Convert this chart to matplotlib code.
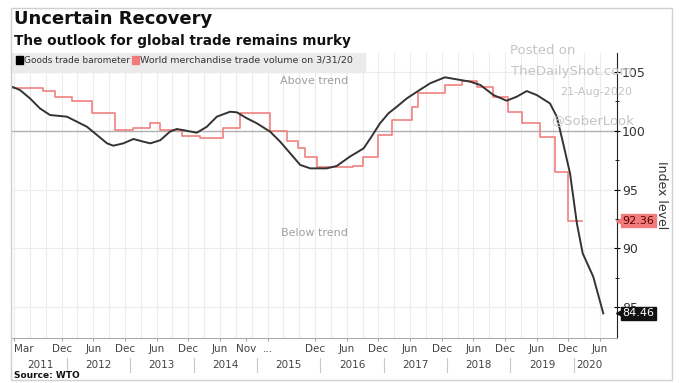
import matplotlib.pyplot as plt
import matplotlib.transforms as mtransforms
from matplotlib.patches import Rectangle

# months counted from Mar 2011
baro_m = [-0.4, 1.1, 3.0, 4.9, 6.8, 10.0, 11.9, 13.8, 15.7, 17.6, 18.8, 20.7, 22.6, 24.5,
          25.8, 27.7, 29.5, 30.8, 32.7, 34.6, 36.5, 38.4, 40.9, 42.2, 44.1, 46.0, 48.5,
          50.4, 52.3, 54.2, 56.1, 59.2, 61.1, 63.6, 66.2, 67.7, 69.3, 70.9, 72.5, 74.4,
          76.3, 78.8, 81.6, 83.8, 86.4, 88.3, 90.8, 93.3, 95.2, 97.1, 99.0, 101.5, 102.8,
          104.0, 105.3, 106.6, 107.7, 109.7, 111.6]
baro_v = [103.75, 103.47, 102.76, 101.9, 101.34, 101.2, 100.77, 100.34, 99.64, 98.93, 98.73,
          98.93, 99.3, 99.07, 98.93, 99.2, 99.92, 100.15, 100.0, 99.83, 100.34, 101.2, 101.62,
          101.57, 101.06, 100.63, 99.92, 99.07, 98.08, 97.09, 96.8, 96.8, 97.0, 97.8, 98.5,
          99.5, 100.63, 101.48, 102.05, 102.76, 103.32, 104.04, 104.55, 104.38, 104.18, 103.9,
          103.04, 102.56, 102.9, 103.38, 103.04, 102.33, 101.2, 98.93, 96.38, 92.12, 89.57,
          87.58, 84.46]

vol_m = [-0.4, 5.5, 7.8, 11.0, 14.8, 19.1, 22.5, 25.8, 27.7, 31.8, 35.2, 39.6, 42.8, 48.5,
         51.7, 53.8, 55.1, 57.4, 64.2, 66.1, 68.9, 71.6, 75.4, 76.5, 81.6, 84.8, 87.7, 90.7,
         93.6, 96.2, 99.6, 102.5, 104.9, 107.6]
vol_v = [103.6, 103.4, 102.9, 102.5, 101.5, 100.05, 100.25, 100.7, 100.05, 99.55, 99.35, 100.2,
         101.55, 100.0, 99.1, 98.5, 97.8, 96.9, 97.0, 97.75, 99.65, 100.95, 102.05, 103.2,
         103.9, 104.2, 103.75, 102.9, 101.6, 100.7, 99.45, 96.45, 92.36, 92.36]

tick_m = [0, 9, 15, 21, 27, 33, 39, 44, 48, 57, 63, 69, 75, 81, 87, 93, 99, 105, 111]
tick_lab = ['Mar', 'Dec', 'Jun', 'Dec', 'Jun', 'Dec', 'Jun', 'Nov', '...', 'Dec', 'Jun', 'Dec',
            'Jun', 'Dec', 'Jun', 'Dec', 'Jun', 'Dec', 'Jun']
years = ['2011', '2012', '2013', '2014', '2015', '2016', '2017', '2018', '2019', '2020']
year_mid = [5, 16, 28, 40, 52, 64, 76, 88, 100, 109]
year_sep = [10, 22, 34, 46, 58, 70, 82, 94, 106]

fig = plt.figure(figsize=(6.8, 3.83), dpi=100)
fig.patches.append(Rectangle((11/680, 1-380/383), 661/680, 372/383, transform=fig.transFigure,
                             fill=False, ec='#d0d0d0', lw=1))
ax = fig.add_axes([12/680, 1-338/383, 605/680, 285/383])
ax.set_xlim(-0.4, 114.2)
ax.set_ylim(82.36, 106.62)

for m in range(0, 114, 3):
    ax.axvline(m, color='#ececec', lw=0.8, zorder=0)
for v in [85, 90, 95, 105]:
    ax.axhline(v, color='#ececec', lw=0.8, zorder=0)
ax.axhline(100, color='#b0b0b0', lw=1, zorder=1)

ax.add_patch(Rectangle((0, 0.933), 0.583, 0.067, transform=ax.transAxes,
                       color='#ebebeb', zorder=1))

ax.step(vol_m, vol_v, where='post', color='#f08080', lw=1.2, zorder=3)
ax.plot(baro_m, baro_v, color='#333333', lw=1.4, zorder=4)

for s in ['top', 'left']:
    ax.spines[s].set_visible(False)
ax.spines['right'].set_color('#222222')
ax.spines['bottom'].set_color('#aaaaaa')

ax.yaxis.tick_right()
ax.set_yticks([85, 90, 95, 100, 105])
ax.set_yticks([87.5, 92.5, 97.5, 102.5], minor=True)
ax.tick_params(axis='y', which='both', direction='inout', length=5, labelsize=9,
               labelcolor='#333333', pad=1)
ax.tick_params(axis='y', which='minor', length=3)
ax.set_xticks(tick_m)
ax.set_xticklabels(tick_lab)
ax.tick_params(axis='x', length=2, color='#aaaaaa', labelsize=7.5, labelcolor='#444444', pad=2)
ax.get_xticklabels()[0].set_horizontalalignment('left')

tr = ax.get_xaxis_transform()
for y, m in zip(years, year_mid):
    ax.text(m, -0.095, y, transform=tr, ha='center', va='center', fontsize=7.5, color='#444444')
for m in year_sep:
    ax.plot([m, m], [-0.07, -0.12], transform=tr, color='#c8c8c8', lw=0.8, clip_on=False)

ax.text(1.074, 0.5, 'Index level', transform=ax.transAxes, rotation=270, ha='center',
        va='center', fontsize=9, color='#333333')

# last value tags
trb = mtransforms.blended_transform_factory(ax.transAxes, ax.transData)
for val, fc, tc in [(vol_v[-1], '#f07b7b', '#5a0000'), (baro_v[-1], '#111111', 'white')]:
    ax.plot([1.006], [val], marker='<', ms=7, color=fc, transform=trb, clip_on=False, zorder=6)
    ax.text(1.009, val, f'{val:.2f}', transform=trb, ha='left', va='center', fontsize=8,
            color=tc, zorder=7, bbox=dict(boxstyle='square,pad=0.15', fc=fc, ec=fc))

# legend band
ax.add_patch(Rectangle((0.007, 0.96), 0.011, 0.03, transform=ax.transAxes, color='black',
                       zorder=2, clip_on=False))
ax.text(0.02, 0.975, 'Goods trade barometer', transform=ax.transAxes, va='center',
        fontsize=6.5, color='#333333')
ax.add_patch(Rectangle((0.199, 0.96), 0.011, 0.03, transform=ax.transAxes, color='#f07b7b',
                       zorder=2, clip_on=False))
ax.text(0.212, 0.975, 'World merchandise trade volume on 3/31/20', transform=ax.transAxes,
        va='center', fontsize=6.8, color='#333333')

ax.text(0.5, 0.9, 'Above trend', transform=ax.transAxes, ha='center', va='center',
        fontsize=8, color='#a0a0a0')
ax.text(0.5, 0.37, 'Below trend', transform=ax.transAxes, ha='center', va='center',
        fontsize=8, color='#a0a0a0')

# watermark
wm = '#c4c4c4'
fig.text(543/680, 1-50/383, 'Posted on', ha='center', va='center', fontsize=9.5, color=wm)
fig.text(572/680, 1-72/383, 'TheDailyShot.com', ha='center', va='center', fontsize=9.5,
         color=wm, zorder=0)
fig.text(596/680, 1-92/383, '21-Aug-2020', ha='center', va='center', fontsize=8, color=wm)
fig.text(593/680, 1-121/383, '@SoberLook', ha='center', va='center', fontsize=9.5, color=wm)

fig.text(14/680, 1-19/383, 'Uncertain Recovery', fontsize=13, fontweight='bold',
         va='center', color='#111111')
fig.text(14/680, 1-41/383, 'The outlook for global trade remains murky', fontsize=9.8,
         fontweight='bold', va='center', color='#111111')
fig.text(14/680, 1-376/383, 'Source: WTO', fontsize=6.5, fontweight='bold', va='center',
         color='#111111')

fig.savefig('out.png', dpi=100)
